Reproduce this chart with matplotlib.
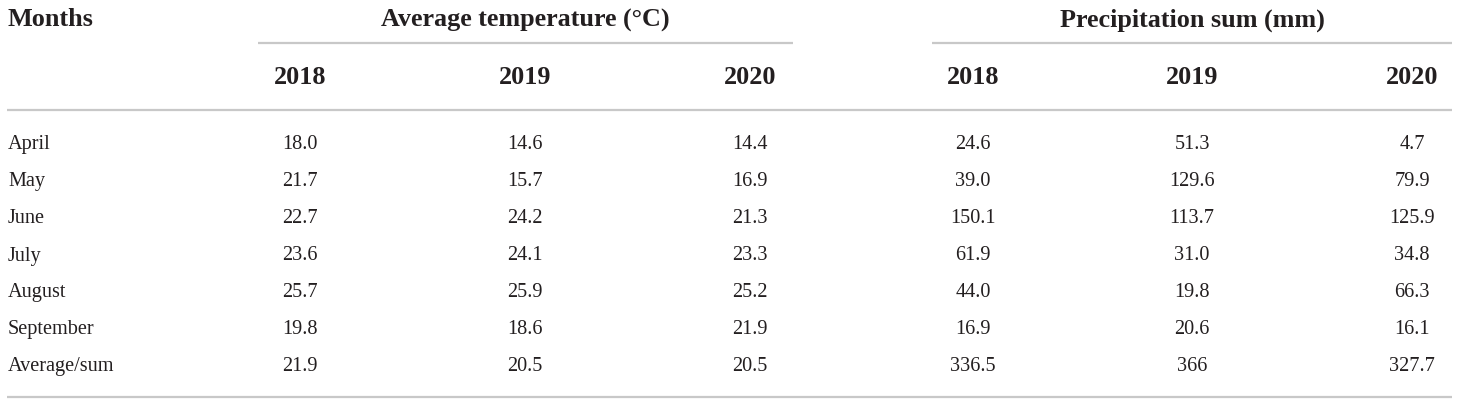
import matplotlib
matplotlib.use("Agg")
import matplotlib.pyplot as plt

months = ["April", "May", "June", "July", "August", "September", "Average/sum"]
years = ["2018", "2019", "2020"]
temp_2018 = ["18.0", "21.7", "22.7", "23.6", "25.7", "19.8", "21.9"]
temp_2019 = ["14.6", "15.7", "24.2", "24.1", "25.9", "18.6", "20.5"]
temp_2020 = ["14.4", "16.9", "21.3", "23.3", "25.2", "21.9", "20.5"]
prec_2018 = ["24.6", "39.0", "150.1", "61.9", "44.0", "16.9", "336.5"]
prec_2019 = ["51.3", "129.6", "113.7", "31.0", "19.8", "20.6", "366"]
prec_2020 = ["4.7", "79.9", "125.9", "34.8", "66.3", "16.1", "327.7"]
group_titles = ["Average temperature (\u00b0C)", "Precipitation sum (mm)"]

W, H = 1460, 406
fig = plt.figure(figsize=(W / 100, H / 100), dpi=100)
ax = fig.add_axes([0, 0, 1, 1])
ax.set_xlim(0, W)
ax.set_ylim(H, 0)
ax.axis("off")

FONT = ["Liberation Serif", "DejaVu Serif"]
TXT = "#231f20"
LINE = "#c8c8c8"
hdr_size = 18.8
body_size = 14.6

temp_x = [300, 525, 750]
prec_x = [973, 1192, 1412]
row_y = [145, 182, 219, 256, 293, 330, 367]

# header
ax.text(8, 20, "Months", ha="left", va="center", fontsize=hdr_size,
        fontweight="bold", family=FONT, color=TXT)
ax.text(525, 20, group_titles[0], ha="center", va="center", fontsize=hdr_size,
        fontweight="bold", family=FONT, color=TXT)
ax.text(1192, 20, group_titles[1], ha="center", va="center", fontsize=hdr_size,
        fontweight="bold", family=FONT, color=TXT)
ax.plot([258, 793], [44, 44], color=LINE, lw=1.6, solid_capstyle="butt")
ax.plot([932, 1452], [44, 44], color=LINE, lw=1.6, solid_capstyle="butt")
for xs in (temp_x, prec_x):
    for x, yr in zip(xs, years):
        ax.text(x, 78, yr, ha="center", va="center", fontsize=hdr_size,
                fontweight="bold", family=FONT, color=TXT)
ax.plot([7, 1452], [111, 111], color=LINE, lw=1.6, solid_capstyle="butt")

# body
cols = [temp_2018, temp_2019, temp_2020, prec_2018, prec_2019, prec_2020]
col_x = temp_x + prec_x
for i, (m, y) in enumerate(zip(months, row_y)):
    ax.text(8, y, m, ha="left", va="center", fontsize=body_size,
            family=FONT, color=TXT)
    for x, col in zip(col_x, cols):
        ax.text(x, y, col[i], ha="center", va="center", fontsize=body_size,
                family=FONT, color=TXT)

ax.plot([7, 1452], [398, 398], color=LINE, lw=1.6, solid_capstyle="butt")

fig.savefig("out.png", dpi=100, facecolor="white")
